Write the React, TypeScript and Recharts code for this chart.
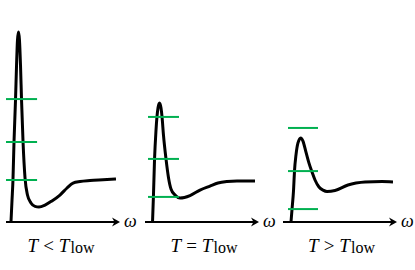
import React from 'react';
import { LineChart, Line, XAxis, YAxis, ReferenceLine } from 'recharts';

// ω (frequency) and spectral intensity values
const curveBelow = [
  { w: 0.53, I: 0 }, { w: 0.64, I: 1.16 }, { w: 0.74, I: 2.21 }, { w: 0.85, I: 4.21 },
  { w: 1.01, I: 6.42 }, { w: 1.12, I: 8.26 }, { w: 1.22, I: 9.58 }, { w: 1.33, I: 10.0 },
  { w: 1.43, I: 9.58 }, { w: 1.54, I: 8.26 }, { w: 1.65, I: 6.42 }, { w: 1.81, I: 4.21 },
  { w: 2.02, I: 2.32 }, { w: 2.28, I: 1.42 }, { w: 2.65, I: 1.0 }, { w: 3.08, I: 0.82 },
  { w: 3.5, I: 0.79 }, { w: 4.14, I: 0.89 }, { w: 4.88, I: 1.11 }, { w: 5.73, I: 1.42 },
  { w: 6.48, I: 1.79 }, { w: 7.12, I: 2.05 }, { w: 7.86, I: 2.13 }, { w: 8.92, I: 2.18 },
  { w: 10.3, I: 2.22 }, { w: 11.68, I: 2.26 },
];
const curveEqual = [
  { w: 0.8, I: 0 }, { w: 0.9, I: 1.42 }, { w: 1.01, I: 3.26 }, { w: 1.17, I: 4.84 },
  { w: 1.27, I: 5.53 }, { w: 1.38, I: 6.0 }, { w: 1.54, I: 6.26 }, { w: 1.7, I: 6.0 },
  { w: 1.81, I: 5.53 }, { w: 1.96, I: 4.58 }, { w: 2.23, I: 3.32 }, { w: 2.5, I: 2.32 },
  { w: 2.76, I: 1.74 }, { w: 3.19, I: 1.42 }, { w: 3.72, I: 1.26 }, { w: 4.78, I: 1.39 },
  { w: 5.84, I: 1.68 }, { w: 6.9, I: 1.89 }, { w: 7.75, I: 2.05 }, { w: 8.71, I: 2.13 },
  { w: 9.77, I: 2.16 }, { w: 11.68, I: 2.16 },
];
const curveAbove = [
  { w: 0.85, I: 0 }, { w: 0.96, I: 0.68 }, { w: 1.12, I: 1.68 }, { w: 1.22, I: 2.68 },
  { w: 1.38, I: 3.53 }, { w: 1.59, I: 4.16 }, { w: 1.88, I: 4.42 }, { w: 2.12, I: 4.26 },
  { w: 2.44, I: 3.68 }, { w: 2.76, I: 3.1 }, { w: 3.08, I: 2.63 }, { w: 3.4, I: 2.21 },
  { w: 3.82, I: 1.84 }, { w: 4.25, I: 1.68 }, { w: 4.67, I: 1.61 }, { w: 5.52, I: 1.66 },
  { w: 6.9, I: 1.95 }, { w: 7.75, I: 2.05 }, { w: 8.71, I: 2.11 }, { w: 10.51, I: 2.13 },
  { w: 11.68, I: 2.11 },
];

// green level markers: [ω start, ω end] and levels
const levelSpanBelow = [0, 3.3];
const levelsBelow = [6.47, 4.21, 2.21];
const levelSpanEqual = [0.32, 3.61];
const levelsEqual = [5.53, 3.32, 1.32];
const levelSpanAbove = [0.53, 3.72];
const levelsAbove = [4.95, 2.68, 0.68];

const axisRange = [0, 12];
const axisSymbol = 'ω';
const relations = ['<', '=', '>'];
const tempSymbol = 'T';
const subscript = 'low';

const GREEN = '#00b050';
const FONT = '"Liberation Serif", "DejaVu Serif", serif';

type PanelProps = {
  data: { w: number; I: number }[];
  span: number[];
  levels: number[];
  relation: string;
  left: number;
  width: number;
  mLeft: number;
  captionOffset: number;
};

const Panel = ({ data, span, levels, relation, left, width, mLeft, captionOffset }: PanelProps) => {
  const mRight = width - mLeft - 113;
  const axisShape = (p: any) => {
    const { x1, y1, x2 } = p;
    const tip = x2 + 1;
    const fs = { fontFamily: FONT };
    return (
      <g>
        <line x1={x1} y1={y1} x2={tip - 4} y2={y1} stroke="#000" strokeWidth={2} />
        <path
          d={`M${tip},${y1} L${tip - 8},${y1 - 4.5} L${tip - 5.5},${y1} L${tip - 8},${y1 + 4.5} Z`}
          fill="#000"
        />
        <text x={tip + 4} y={y1 + 5} style={fs} fontSize={18} fontStyle="italic" fill="#000">
          {axisSymbol}
        </text>
        <text
          x={x1 + captionOffset}
          y={y1 + 29.5}
          textAnchor="middle"
          style={fs}
          fontSize={19}
          fill="#000"
        >
          <tspan style={fs} fontStyle="italic">{tempSymbol}</tspan>
          <tspan style={fs} dx={5}>{relation}</tspan>
          <tspan style={fs} dx={5} fontStyle="italic">{tempSymbol}</tspan>
          <tspan style={fs} dx={1} fontSize={16} dy={1.5}>{subscript}</tspan>
        </text>
      </g>
    );
  };
  return (
    <div style={{ position: 'absolute', left, top: 0 }}>
      <LineChart
        width={width}
        height={270}
        data={data}
        margin={{ top: 32, bottom: 48, left: mLeft, right: mRight }}
      >
        <XAxis dataKey="w" type="number" domain={axisRange} hide />
        <YAxis type="number" domain={[0, 10]} hide />
        <ReferenceLine
          segment={[{ x: axisRange[0], y: 0 }, { x: axisRange[1], y: 0 }]}
          ifOverflow="visible"
          shape={axisShape}
        />
        <Line
          type="monotone"
          dataKey="I"
          stroke="#000"
          strokeWidth={3}
          dot={false}
          activeDot={false}
          isAnimationActive={false}
        />
        {levels.map((lv, i) => (
          <ReferenceLine
            key={i}
            segment={[{ x: span[0], y: lv }, { x: span[1], y: lv }]}
            stroke={GREEN}
            strokeWidth={2}
            ifOverflow="visible"
          />
        ))}
      </LineChart>
    </div>
  );
}

export default function App() {
  return (
    <div style={{ position: 'absolute', left: 0, top: 0, width: 415, height: 270, background: '#fff' }}>
      <Panel data={curveBelow} span={levelSpanBelow} levels={levelsBelow} relation={relations[0]}
        left={0} width={140} mLeft={6} captionOffset={55} />
      <Panel data={curveEqual} span={levelSpanEqual} levels={levelsEqual} relation={relations[1]}
        left={140} width={140} mLeft={5} captionOffset={59} />
      <Panel data={curveAbove} span={levelSpanAbove} levels={levelsAbove} relation={relations[2]}
        left={278} width={137} mLeft={5} captionOffset={58.5} />
    </div>
  );
}
